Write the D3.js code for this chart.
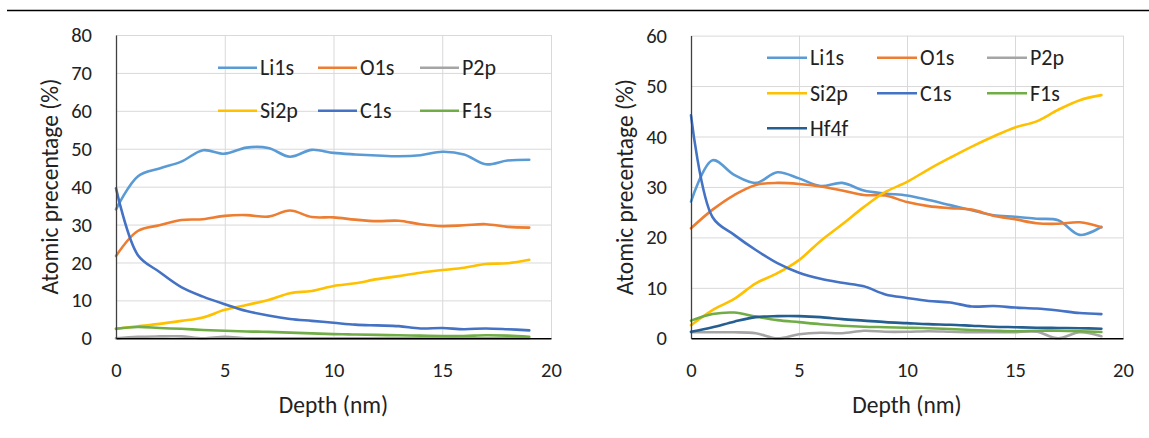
<!DOCTYPE html>
<html>
<head>
<meta charset="utf-8">
<script src="https://cdn.jsdelivr.net/npm/d3@7"></script>
<style>
  html, body { margin: 0; padding: 0; background: #fff; }
  svg { display: block; }
  text { font-family: Carlito, Calibri, Lato, "Open Sans", sans-serif; fill: #222; }
</style>
</head>
<body>
<svg id="chart" width="1149" height="438"></svg>
<script>
// Depth profile sampling points (nm)
const depth = [0,1,2,3,4,5,6,7,8,9,10,11,12,13,14,15,16,17,18,19];

// Panel A — atomic percentages
const a_Li1s = [34.0,42.7,44.8,46.6,49.6,48.7,50.3,50.2,47.9,49.7,48.9,48.5,48.2,48.0,48.3,49.2,48.5,45.9,46.9,47.1];
const a_O1s  = [21.7,28.3,29.8,31.2,31.4,32.3,32.5,32.1,33.7,32.0,31.9,31.3,30.9,31.0,30.1,29.6,29.8,30.1,29.4,29.2];
const a_P2p  = [0.0,0.4,0.5,0.5,0.0,0.4,0.0,0.0,0.0,0.0,0.0,0.0,0.0,0.0,0.0,0.0,0.0,0.0,0.0,0.0];
const a_Si2p = [2.5,3.2,3.8,4.6,5.5,7.5,8.8,10.1,11.9,12.5,13.8,14.5,15.6,16.4,17.3,18.0,18.6,19.6,19.8,20.7];
const a_C1s  = [39.6,22.0,17.5,13.5,11.0,9.0,7.2,6.0,5.1,4.6,4.1,3.6,3.4,3.2,2.6,2.7,2.4,2.6,2.4,2.1];
const a_F1s  = [2.5,3.0,2.7,2.5,2.2,2.0,1.8,1.7,1.5,1.3,1.1,1.0,0.9,0.8,0.7,0.6,0.6,0.8,0.7,0.4];

// Panel B — atomic percentages
const b_Li1s = [27.1,35.3,32.4,30.8,32.9,31.7,30.2,30.8,29.3,28.7,28.3,27.4,26.4,25.4,24.4,24.1,23.7,23.4,20.5,22.1];
const b_O1s  = [21.8,25.5,28.4,30.4,30.8,30.6,30.1,29.3,28.4,28.3,27.0,26.2,25.8,25.5,24.3,23.6,22.8,22.7,23.0,22.0];
const b_P2p  = [1.2,1.2,1.2,1.0,0.0,0.8,1.1,1.0,1.5,1.3,1.3,1.4,1.3,1.2,1.2,1.2,1.3,0.0,1.2,0.4];
const b_Si2p = [2.6,5.6,7.8,10.9,12.9,15.5,19.3,22.6,26.0,29.0,31.0,33.5,35.8,38.0,40.0,41.8,43.0,45.3,47.2,48.2];
const b_C1s  = [44.2,24.0,20.5,17.5,14.9,13.0,11.8,11.0,10.3,8.7,8.0,7.4,7.1,6.3,6.4,6.1,5.9,5.5,5.0,4.8];
const b_F1s  = [3.5,4.8,5.1,4.3,3.6,3.2,2.8,2.5,2.3,2.2,2.1,2.0,1.85,1.65,1.5,1.4,1.5,1.5,1.4,1.25];
const b_Hf4f = [1.3,2.2,3.3,4.2,4.4,4.4,4.2,3.8,3.5,3.2,3.0,2.8,2.7,2.5,2.3,2.2,2.1,2.05,2.0,1.9];

// Axis ticks
const xTicks = [0,5,10,15,20];
const yTicksA = [0,10,20,30,40,50,60,70,80];
const yTicksB = [0,10,20,30,40,50,60];

const colors = {
  Li1s: "#5B9BD5", O1s: "#ED7D31", P2p: "#A5A5A5", Si2p: "#FFC000",
  C1s: "#4472C4", F1s: "#70AD47", Hf4f: "#255E91"
};

const panels = [
  {
    series: [["Li1s", a_Li1s], ["O1s", a_O1s], ["P2p", a_P2p], ["Si2p", a_Si2p], ["C1s", a_C1s], ["F1s", a_F1s]],
    yTicks: yTicksA,
    box: { left: 116, right: 551, top: 35, bottom: 338.3 },
    legend: { cols: [218, 318, 420], rows: [67.7, 110.7], len: 39 }
  },
  {
    series: [["Li1s", b_Li1s], ["O1s", b_O1s], ["P2p", b_P2p], ["Si2p", b_Si2p], ["C1s", b_C1s], ["F1s", b_F1s], ["Hf4f", b_Hf4f]],
    yTicks: yTicksB,
    box: { left: 691, right: 1123, top: 35.6, bottom: 338.3 },
    legend: { cols: [767, 877, 987], rows: [57.7, 93.3, 128.3], len: 40 }
  }
];

const svg = d3.select("#chart");
const TICK_FONT = 20.5, TITLE_FONT = 23.5, LEGEND_FONT = 22;

// rule across the top of the figure
svg.append("line")
  .attr("x1", 7).attr("x2", 1149).attr("y1", 10.5).attr("y2", 10.5)
  .attr("stroke", "#000").attr("stroke-width", 1.4);

panels.forEach(p => {
  const b = p.box;
  const yMax = d3.max(p.yTicks);
  const x = d3.scaleLinear().domain([0, 20]).range([b.left, b.right]);
  const y = d3.scaleLinear().domain([0, yMax]).range([b.bottom, b.top]);
  const g = svg.append("g");

  // gridlines
  g.append("g")
    .attr("transform", `translate(${b.left},0)`)
    .call(d3.axisLeft(y).tickValues(p.yTicks.filter(v => v > 0)).tickSize(-(b.right - b.left)).tickFormat(""))
    .call(s => s.select(".domain").remove())
    .selectAll("line").attr("stroke", "#d9d9d9").attr("stroke-width", 1);
  g.append("g")
    .attr("transform", `translate(0,${b.bottom})`)
    .call(d3.axisBottom(x).tickValues(xTicks.filter(v => v > 0)).tickSize(-(b.bottom - b.top)).tickFormat(""))
    .call(s => s.select(".domain").remove())
    .selectAll("line").attr("stroke", "#d9d9d9").attr("stroke-width", 1);

  // series lines (smoothed)
  const line = d3.line()
    .x((d, i) => x(depth[i]))
    .y(d => y(d))
    .curve(d3.curveCatmullRom.alpha(0.5));
  p.series.forEach(([name, vals]) => {
    g.append("path")
      .datum(vals)
      .attr("fill", "none")
      .attr("stroke", colors[name])
      .attr("stroke-width", 2.6)
      .attr("stroke-linejoin", "round")
      .attr("stroke-linecap", "round")
      .attr("d", line);
  });

  // axes
  const yAxis = g.append("g")
    .attr("transform", `translate(${b.left},0)`)
    .call(d3.axisLeft(y).tickValues(p.yTicks).tickSize(0).tickPadding(24));
  yAxis.select(".domain").attr("stroke", "#404040").attr("stroke-width", 1.3);
  yAxis.selectAll("text").attr("font-size", TICK_FONT).attr("fill", "#222")
    .attr("font-family", "Carlito, Calibri, Lato, sans-serif");

  const xAxis = g.append("g")
    .attr("transform", `translate(0,${b.bottom})`)
    .call(d3.axisBottom(x).tickValues(xTicks).tickSize(0).tickPadding(0));
  xAxis.select(".domain").attr("stroke", "#000").attr("stroke-width", 1.4);
  xAxis.selectAll("text").attr("font-size", TICK_FONT).attr("fill", "#222")
    .attr("font-family", "Carlito, Calibri, Lato, sans-serif")
    .attr("y", 32).attr("dy", "0.35em");

  // axis titles
  g.append("text")
    .attr("x", (b.left + b.right) / 2).attr("y", 405)
    .attr("dy", "0.35em").attr("text-anchor", "middle")
    .attr("font-size", TITLE_FONT)
    .text("Depth (nm)");
  g.append("text")
    .attr("transform", `translate(${b.left - 66},${(b.top + b.bottom) / 2}) rotate(-90)`)
    .attr("dy", "0.35em").attr("text-anchor", "middle")
    .attr("font-size", TITLE_FONT)
    .text("Atomic precentage (%)");

  // legend
  const L = p.legend;
  p.series.forEach(([name], i) => {
    const cx = L.cols[i % 3], cy = L.rows[Math.floor(i / 3)];
    g.append("line")
      .attr("x1", cx).attr("x2", cx + L.len).attr("y1", cy).attr("y2", cy)
      .attr("stroke", colors[name]).attr("stroke-width", 2.6);
    g.append("text")
      .attr("x", cx + L.len + 3).attr("y", cy).attr("dy", "0.35em")
      .attr("font-size", LEGEND_FONT)
      .text(name);
  });
});
</script>
</body>
</html>
